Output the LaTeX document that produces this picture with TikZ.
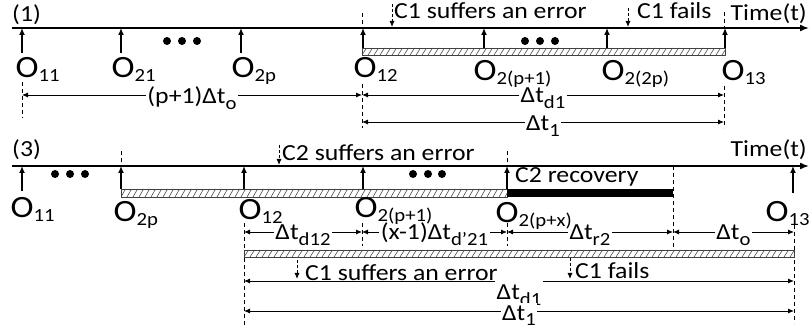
\documentclass[tikz,border=0pt]{standalone}
\usepackage{fontspec}
\setmainfont[FakeStretch=1.12]{Carlito}
\usetikzlibrary{arrows.meta}

% sizes of the annotation text
\newcommand\subf{\fontsize{18.5}{18.5}\selectfont}
\newcommand\Olab[1]{{\fontsize{31}{31}\selectfont O}\raisebox{-4pt}{\subf #1}}
\newcommand\Dt[1]{Δt\raisebox{-5.5pt}{\subf #1}}

% a bar filled with thin diagonal hatching
\newcommand\hatchedbar[4]{%
  \fill[white] (#1,#2) rectangle (#3,#4);
  \begin{scope}
    \clip (#1,#2) rectangle (#3,#4);
    \foreach \k in {0,...,95}
      \draw[hatch] ({#1-6+6*\k},#4) -- ++(4.5,{#2-#4});
  \end{scope}
  \draw[barframe] (#1,#2) rectangle (#3,#4);
}

\tikzset{
  mainf/.style={font=\fontsize{23}{25}\selectfont},
  txt/.style={mainf, inner sep=0pt, anchor=base west},
  olab/.style={inner sep=0pt, anchor=base west},
  dimlbl/.style={mainf, fill=white, inner xsep=1.5pt, inner ysep=2pt, anchor=base},
  timeline/.style={line width=1.6pt, -{Latex[length=9pt,width=7pt]}},
  tick/.style={line width=1.3pt, -{Latex[length=7pt,width=6pt]}},
  dim/.style={line width=0.9pt, {Latex[length=6pt,width=5pt]}-{Latex[length=6pt,width=5pt]}},
  guide/.style={line width=0.9pt, dash pattern=on 4pt off 3pt},
  evt/.style={line width=0.9pt, dash pattern=on 3pt off 2pt, -{Latex[length=6pt,width=5pt]}},
  hatch/.style={black!70, line width=0.6pt},
  barframe/.style={black!75, line width=0.8pt},
  dotmark/.style={fill=black},
}

\begin{document}
\begin{tikzpicture}[x=1pt,y=-1pt]
\useasboundingbox (0,0) rectangle (809,331);

% ------------------------------------------------------------ case (1)
\node[txt] (lab1) at (12,22) {(1)};
\coordinate (t1s) at (12,28);
\coordinate (t1e) at (809,28);

% dashed guides
\draw[guide] (22,82) -- (22,118);
\draw[guide] (362,13) -- (362,28);
\draw[guide] (362,84) -- (362,128);
\draw[guide] (724,12) -- (724,28);
\draw[guide] (724,86) -- (724,128);

\draw[timeline] (t1s) -- (t1e);
\hatchedbar{362}{48}{725}{55}

% observation ticks
\foreach \nm/\x/\yb in {a/22/53, b/121/53, c/241/53, d/363/48, e/484/48, f/607/48, g/725/48} {
  \coordinate (p1\nm) at (\x,\yb);
  \coordinate (q1\nm) at (\x,28);
  \draw[tick] (p1\nm) -- (q1\nm);
}

\foreach \x in {167,182,197,525,540,555} \fill[dotmark] (\x,41) circle (4);

% events above the time axis
\coordinate (e1a) at (392,4);  \coordinate (e1b) at (392,27);
\coordinate (e2a) at (628,8);  \coordinate (e2b) at (628,27);
\draw[evt] (e1a) -- (e1b);
\draw[evt] (e2a) -- (e2b);
\node[txt] (c1err) at (394,19) {C1 suffers an error};
\node[txt] (c1fail) at (637,19) {C1 fails};
\node[mainf, inner sep=0pt, anchor=base east] (time1) at (807,21) {Time(t)};

% intervals
\coordinate (d1a) at (22,95);  \coordinate (d1b) at (362,95);  \coordinate (d1c) at (724,95);
\coordinate (d1d) at (362,122); \coordinate (d1e) at (724,122);
\draw[dim] (d1a) -- (d1b);
\draw[dim] (d1b) -- (d1c);
\draw[dim] (d1d) -- (d1e);
\node[dimlbl] (w1) at (192,104) {(p+1)\Dt{o}};
\node[dimlbl] (w2) at (543,103) {\Dt{d1}};
\node[dimlbl] (w3) at (543,131) {\Dt{1}};

% observation labels (on top of the interval labels)
\node[olab] (o111) at (15.5,78) {\Olab{11}};
\node[olab] (o121) at (111.5,78) {\Olab{21}};
\node[olab] (o12p) at (231.5,78) {\Olab{2p}};
\node[olab] (o112) at (353.5,78) {\Olab{12}};
\node[olab] (o12p1) at (473.5,81) {\Olab{2(p+1)}};
\node[olab] (o122p) at (601.5,81) {\Olab{2(2p)}};
\node[olab] (o113) at (721.5,81) {\Olab{13}};

% ------------------------------------------------------------ case (3)
\node[txt] (lab3) at (12,157) {(3)};
\coordinate (t3s) at (12,166);
\coordinate (t3e) at (809,166);

\draw[guide] (121,151) -- (121,166);
\draw[guide] (507,151) -- (507,166);
\draw[guide] (507,223) -- (507,246);
\draw[guide] (673,166) -- (673,247);
\draw[guide] (244,223) -- (244,326);
\draw[guide] (362,223) -- (362,246);
\draw[guide] (794,225) -- (794,323);

\draw[timeline] (t3s) -- (t3e);
\hatchedbar{121}{189}{507}{197}
\fill (507,189) rectangle (673,197);

\foreach \nm/\x/\yb in {a/22/191, b/121/189, c/244/189, d/363/189, e/507/189, f/793/193} {
  \coordinate (p3\nm) at (\x,\yb);
  \coordinate (q3\nm) at (\x,166);
  \draw[tick] (p3\nm) -- (q3\nm);
}

\foreach \x in {55,70,85,413,428,442} \fill[dotmark] (\x,174) circle (4);

\coordinate (e3a) at (279,145); \coordinate (e3b) at (279,165);
\draw[evt] (e3a) -- (e3b);
\node[txt] (c2err) at (282,161) {C2 suffers an error};
\node[txt] (c2rec) at (515,183) {C2 recovery};
\node[mainf, inner sep=0pt, anchor=base east] (time3) at (807,157) {Time(t)};

% sub-intervals
\coordinate (s1) at (244,232); \coordinate (s2) at (362,232);
\coordinate (s3) at (507,232); \coordinate (s4) at (673,232);
\coordinate (s5) at (794,232);
\draw[dim] (s1) -- (s2);
\draw[dim] (s2) -- (s3);
\draw[dim] (s3) -- (s4);
\draw[dim] (s4) -- (s5);
\node[dimlbl] (v1) at (303,240) {\Dt{d12}};
\node[dimlbl] (v2) at (434.5,240) {(x-1)\Dt{d’21}};
\node[dimlbl] (v3) at (590,240) {\Dt{r2}};
\node[dimlbl] (v4) at (733.5,240) {\Dt{o}};

\node[olab] (o311) at (10.5,217.5) {\Olab{11}};
\node[olab] (o32p) at (113.5,221.5) {\Olab{2p}};
\node[olab] (o312) at (238.5,219.5) {\Olab{12}};
\node[olab] (o32p1) at (354.5,217.5) {\Olab{2(p+1)}};
\node[olab] (o32px) at (495.5,222.5) {\Olab{2(p+x)}};
\node[olab] (o313) at (765.5,221.5) {\Olab{13}};

\hatchedbar{244}{250}{794}{257}

% events of C1 during recovery
\coordinate (e4a) at (297,260); \coordinate (e4b) at (297,279);
\coordinate (e5a) at (570,258); \coordinate (e5b) at (570,279);

\coordinate (u1) at (244,281); \coordinate (u2) at (794,281);
\coordinate (u3) at (244,311); \coordinate (u4) at (794,311);
\draw[dim] (u1) -- (u2);
\draw[dim] (u3) -- (u4);
\draw[evt] (e4a) -- (e4b);
\draw[evt] (e5a) -- (e5b);
\node[txt] (c1err3) at (305,280) {C1 suffers an error};
\node[txt] (c1fail3) at (575,279) {C1 fails};
\node[dimlbl, text height=21pt, text depth=5pt, inner ysep=1pt] (v5) at (519,300) {\Dt{d1}};
\node[dimlbl] (v6) at (519,320) {\Dt{1}};
\end{tikzpicture}
\end{document}
